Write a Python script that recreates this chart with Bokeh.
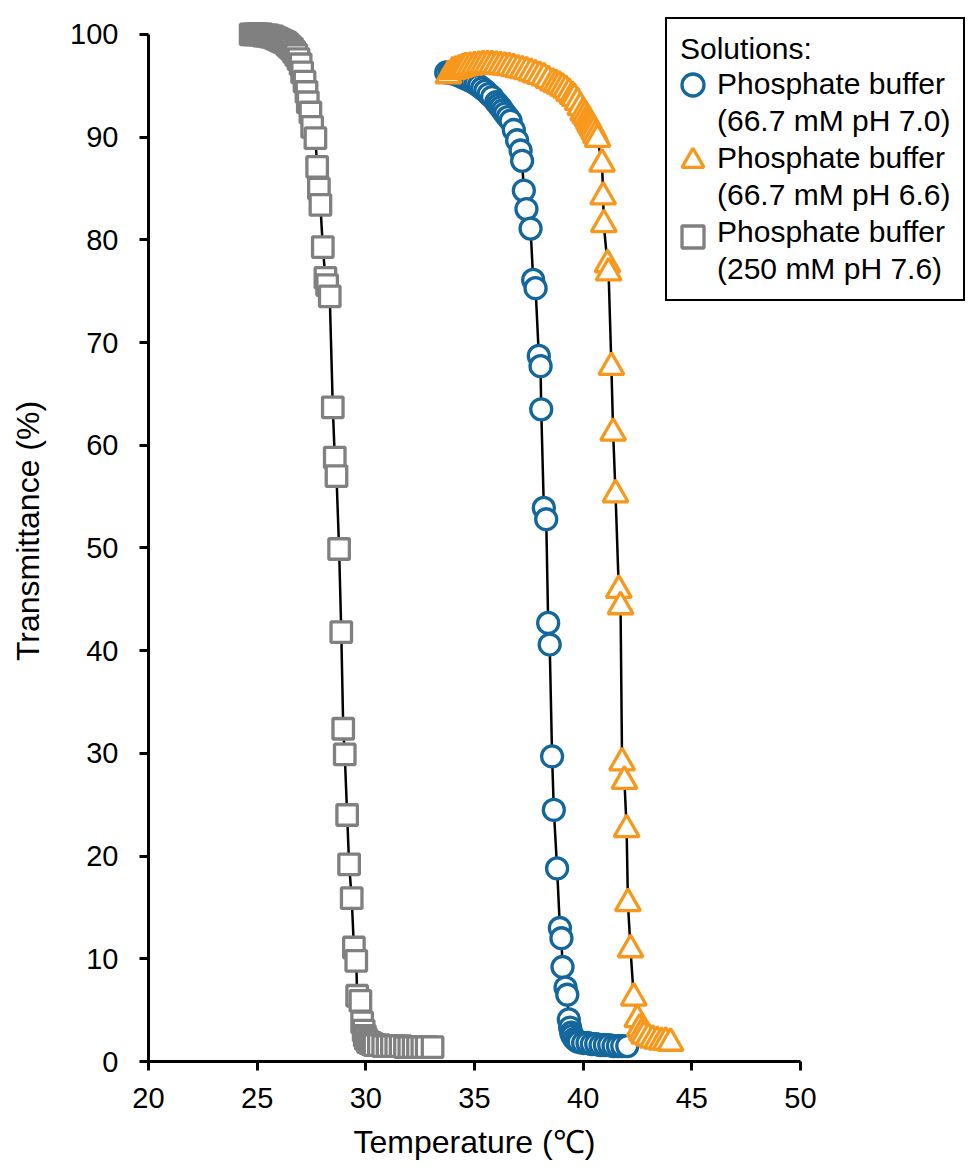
from bokeh.plotting import figure
from bokeh.models import Legend, LegendItem, Range1d, FixedTicker, Title
from bokeh.core.properties import value
from bokeh.embed import file_html
from bokeh.resources import INLINE

# ---------------- data ----------------
# Phosphate buffer (250 mM pH 7.6) - grey squares
temp_250_76 = [24.7, 24.8, 24.9, 25.0, 25.1, 25.2, 25.3, 25.4, 25.5, 25.6, 25.7, 25.8, 25.9,
               26.0, 26.1, 26.2, 26.3, 26.4, 26.5, 26.6, 26.7, 26.8, 26.9, 27.0,
               27.07, 27.18, 27.27, 27.33, 27.45, 27.53, 27.68, 27.76, 27.84, 27.91,
               28.02, 28.14, 28.22, 28.34, 28.48, 28.57, 28.65, 28.77, 28.87, 28.96,
               29.03, 29.14, 29.23, 29.35, 29.45, 29.56, 29.60, 29.75, 29.83,
               29.9, 29.95, 30.0, 30.1, 30.2, 30.3, 30.4, 30.6, 30.8, 31.0, 31.2, 31.4,
               31.6, 31.8, 32.0, 32.2, 32.4, 32.6, 32.8, 33.07]
trans_250_76 = [100.0, 100.0, 100.0, 100.0, 100.0, 100.0, 99.9, 99.9, 99.9, 99.8, 99.8, 99.7, 99.6,
                99.5, 99.4, 99.3, 99.2, 99.0, 98.8, 98.6, 98.3, 98.0, 97.6, 97.1,
                96.3, 95.4, 94.4, 93.4, 92.4, 91.0, 89.9, 87.1, 85.0, 83.4,
                79.3, 76.3, 75.6, 74.5, 63.7, 58.8, 57.0, 49.9, 41.8, 32.4,
                29.9, 24.0, 19.2, 15.9, 11.1, 9.8, 6.4, 5.9, 3.8,
                3.0, 2.5, 2.2, 1.9, 1.8, 1.7, 1.6, 1.6, 1.5, 1.5, 1.5, 1.5,
                1.5, 1.4, 1.4, 1.4, 1.4, 1.4, 1.4, 1.4]

# Phosphate buffer (66.7 mM pH 7.0) - blue circles
temp_667_70 = [33.7, 33.85, 34.0, 34.15, 34.3, 34.45, 34.6, 34.75, 34.9, 35.05, 35.2, 35.35,
               35.5, 35.65, 35.81, 36.0, 36.1, 36.2, 36.3, 36.4, 36.53, 36.66,
               36.81, 36.96, 37.12, 37.19, 37.27, 37.39, 37.58, 37.70, 37.81, 37.96,
               38.04, 38.07, 38.19, 38.30, 38.39, 38.46, 38.57, 38.65, 38.80, 38.93,
               39.0, 39.05, 39.19, 39.27, 39.34, 39.4, 39.45, 39.5, 39.6, 39.7, 39.8,
               40.0, 40.2, 40.4, 40.6, 40.8, 41.0, 41.2, 41.4, 41.6, 41.8, 42.03]
trans_667_70 = [96.3, 96.25, 96.2, 96.1, 96.0, 95.85, 95.7, 95.55, 95.4, 95.2, 95.0, 94.75,
                94.5, 94.2, 93.9, 93.4, 93.15, 92.9, 92.6, 92.3, 91.95, 91.6,
                90.7, 89.7, 88.7, 87.7, 84.8, 83.0, 81.1, 76.1, 75.3, 68.7,
                67.7, 63.5, 53.9, 52.8, 42.7, 40.6, 29.7, 24.5, 18.8, 13.0,
                12.0, 9.2, 7.2, 6.5, 4.1, 3.3, 2.8, 2.5, 2.2, 2.0, 1.9,
                1.8, 1.8, 1.7, 1.7, 1.6, 1.6, 1.6, 1.5, 1.5, 1.5, 1.5]

# Phosphate buffer (66.7 mM pH 6.6) - orange triangles
temp_667_66 = [33.8, 34.0, 34.15, 34.3, 34.45, 34.6, 34.8, 35.0, 35.2, 35.4, 35.6, 35.8,
               36.0, 36.2, 36.4, 36.6, 36.8, 37.0, 37.2, 37.4, 37.6, 37.8, 38.0,
               38.2, 38.4, 38.6, 38.75, 38.9, 39.05, 39.2, 39.35, 39.5, 39.6, 39.74,
               39.87, 40.0, 40.1, 40.2, 40.27, 40.34, 40.42, 40.5, 40.58, 40.66,
               40.87, 40.92, 40.95, 41.12, 41.17, 41.30, 41.38, 41.49, 41.64, 41.72,
               41.79, 41.90, 42.0, 42.06, 42.18, 42.33, 42.49, 42.6, 42.7, 42.8, 43.0,
               43.2, 43.4, 43.6, 43.8, 44.02]
trans_667_66 = [96.0, 96.4, 96.5, 96.6, 96.7, 96.8, 96.85, 96.9, 96.95, 97.0, 97.0, 97.0,
                96.95, 96.9, 96.85, 96.8, 96.7, 96.6, 96.5, 96.4, 96.25, 96.1, 95.95,
                95.8, 95.55, 95.3, 95.15, 95.0, 94.8, 94.6, 94.3, 94.0, 93.8, 93.4,
                92.9, 92.4, 92.1, 91.8, 91.5, 91.2, 90.9, 90.6, 90.2, 89.8,
                87.4, 84.2, 81.5, 77.6, 76.8, 67.6, 61.2, 55.2, 45.9, 44.3,
                29.1, 27.3, 22.6, 15.4, 10.9, 6.2, 4.1, 3.2, 2.8, 2.5, 2.3,
                2.1, 2.0, 1.9, 1.9, 1.8]

x_ticks = [20, 25, 30, 35, 40, 45, 50]
y_ticks = [0, 10, 20, 30, 40, 50, 60, 70, 80, 90, 100]

x_title = "Temperature (\u2103)"
y_title = "Transmittance (%)"
legend_title = "Solutions:"
label_70 = ["Phosphate buffer", "(66.7 mM pH 7.0)"]
label_66 = ["Phosphate buffer", "(66.7 mM pH 6.6)"]
label_76 = ["Phosphate buffer", "(250 mM pH 7.6)"]

# ---------------- layout / styles ----------------
FONT = "Liberation Sans"
BLUE = "#13679C"
ORANGE = "#F7981D"
GREY = "#808080"

W, H = 966, 1170
FR_LEFT, FR_BOTTOM = 148, 1062          # pixel position of (20, 0)
PX_PER_X = (800 - 148) / (x_ticks[-1] - x_ticks[0])
PX_PER_Y = (1062 - 34) / (y_ticks[-1] - y_ticks[0])
x_end = x_ticks[0] + (W - FR_LEFT) / PX_PER_X
y_end = y_ticks[-1] + 34 / PX_PER_Y

p = figure(width=W, height=H, output_backend="svg", toolbar_location=None,
           x_range=Range1d(x_ticks[0], x_end), y_range=Range1d(y_ticks[0], y_end),
           min_border_left=FR_LEFT, min_border_right=0, min_border_top=0,
           min_border_bottom=H - FR_BOTTOM)
p.outline_line_color = None
p.grid.visible = False
p.background_fill_color = "white"
p.border_fill_color = "white"

p.xaxis.ticker = FixedTicker(ticks=x_ticks)
p.yaxis.ticker = FixedTicker(ticks=y_ticks)
p.xaxis.bounds = (x_ticks[0], x_ticks[-1])
p.yaxis.bounds = (y_ticks[0], y_ticks[-1])
p.yaxis.axis_label = y_title

for ax in (p.xaxis[0], p.yaxis[0]):
    ax.axis_line_width = 3
    ax.axis_line_color = "black"
    ax.major_tick_line_width = 3
    ax.major_tick_line_color = "black"
    ax.major_tick_out = 9
    ax.major_tick_in = 0
    ax.minor_tick_out = 0
    ax.minor_tick_in = 0
    ax.major_label_text_font = FONT
    ax.major_label_text_font_size = "29px"
    ax.major_label_text_color = "black"
    ax.axis_label_text_font = FONT
    ax.axis_label_text_font_size = "32px"
    ax.axis_label_text_font_style = "normal"
    ax.axis_label_text_color = "black"

p.xaxis.major_label_standoff = 17
p.yaxis.major_label_standoff = 21
p.yaxis.axis_label_standoff = 21

# x-axis title, centred under the 20..50 axis (not the wider frame)
xt = Title(text=x_title, align="left", offset=353 - FR_LEFT, vertical_align="bottom",
           text_font=FONT, text_font_size="32px", text_font_style="normal",
           text_color="black", standoff=22)
p.add_layout(xt, "below")

# connecting lines
p.line(temp_250_76, trans_250_76, line_color="black", line_width=2.5)
p.line(temp_667_70, trans_667_70, line_color="black", line_width=2.5)
p.line(temp_667_66, trans_667_66, line_color="black", line_width=2.5)

r76 = p.scatter(temp_250_76, trans_250_76, marker="square", size=20.5,
                line_color=GREY, line_width=3.3, fill_color="white")
r70 = p.scatter(temp_667_70, trans_667_70, marker="circle", size=21,
                line_color=BLUE, line_width=3.3, fill_color="white")
r66 = p.scatter(temp_667_66, trans_667_66, marker="triangle", size=25,
                line_color=ORANGE, line_width=3.3, fill_color="white")

# text part of the legend (box, title, two-line labels)
items = [
    LegendItem(label=value(label_70[0]), renderers=[]),
    LegendItem(label=value(label_70[1]), renderers=[]),
    LegendItem(label=value(label_66[0]), renderers=[]),
    LegendItem(label=value(label_66[1]), renderers=[]),
    LegendItem(label=value(label_76[0]), renderers=[]),
    LegendItem(label=value(label_76[1]), renderers=[]),
]
LEG_L, LEG_B = 665, 302
legend = Legend(items=items, location=(LEG_L - FR_LEFT, FR_BOTTOM - LEG_B),
                title=legend_title,
                title_text_font=FONT, title_text_font_size="30px",
                title_text_font_style="normal", title_text_color="black",
                title_standoff=-1,
                label_text_font=FONT, label_text_font_size="30px",
                label_text_color="black",
                label_height=35, glyph_height=35, glyph_width=29,
                label_standoff=8, spacing=2, padding=13, margin=0,
                border_line_color="black", border_line_width=2, border_line_alpha=1.0,
                background_fill_color="white", background_fill_alpha=1.0)
p.add_layout(legend)

# marker part of the legend (larger glyph boxes so symbols match the reference size)
GB = 55
sym_items = [
    LegendItem(label=value(" "), renderers=[r70]),
    LegendItem(label=value(" "), renderers=[r66]),
    LegendItem(label=value(" "), renderers=[r76]),
]
sym_sp = 21
sym_h = 3 * GB + 2 * sym_sp
sym_top = 85 - GB / 2
sym_legend = Legend(items=sym_items,
                    location=(692 - GB / 2 - FR_LEFT, FR_BOTTOM - (sym_top + sym_h)),
                    glyph_width=GB, glyph_height=GB, label_height=GB,
                    label_standoff=0, spacing=sym_sp, padding=0, margin=0,
                    label_text_font_size="2px",
                    border_line_color=None, background_fill_alpha=0.0)
p.add_layout(sym_legend)

open("out.html", "w").write(file_html(p, INLINE))
